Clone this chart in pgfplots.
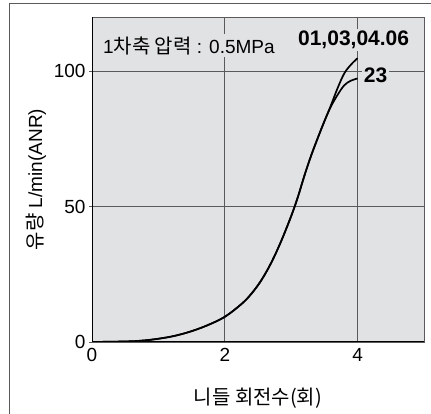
\documentclass[border=0pt]{standalone}
\usepackage{fontspec}
\setmainfont{Liberation Sans}
\newfontfamily\kr[Scale=1.05]{Noto Sans CJK KR}
\usepackage{pgfplots}
\pgfplotsset{compat=1.18}
\definecolor{bg}{HTML}{E1E2E4}
\definecolor{gridc}{HTML}{5A5A5A}
\begin{document}
\begin{tikzpicture}
\useasboundingbox (0pt,0pt) rectangle (431pt,414pt);
\draw[gridc, line width=0.8pt] (431pt,411pt) -- (9.5pt,411pt) -- (9.5pt,0pt);
\begin{axis}[
 at={(92pt,72pt)}, anchor=south west,
 scale only axis, width=332pt, height=325pt,
 xmin=0, xmax=5, ymin=0, ymax=120,
 xtick={0,2,4}, ytick={0,50,100},
 axis background/.style={fill=bg},
 grid=major, major grid style={gridc, line width=0.8pt},
 axis line style={gridc, line width=0.8pt},
 tick align=outside, major tick length=3pt,
 xtick style={draw=none}, ytick style={gridc, line width=0.8pt},
 ytick pos=left, xtick pos=bottom,
 tick label style={font=\fontsize{19}{22}\selectfont},
 /pgf/number format/assume math mode=true,
 xlabel={\kr 니들 회전수(회)},
 ylabel={{\kr 유량} L/min(ANR)},
 label style={font=\fontsize{19}{22}\selectfont},
 xlabel style={at={(axis description cs:0.5,-0.172)}, anchor=center},
 ylabel style={at={(axis description cs:-0.169,0.5)}, anchor=center},
 clip=true,
]
\addplot[black, line width=1.7pt, smooth, tension=0.6] coordinates {
 (0,0) (0.5,0.2) (0.75,0.5) (1.0,1.2) (1.25,2.3) (1.5,4.0) (1.75,6.3) (2,9.3)
 (2.25,14) (2.4,17.8) (2.55,22.8) (2.7,29.3) (2.85,37.3) (3.0,46.5) (3.1,53.5)
 (3.2,61.5) (3.3,68.8) (3.4,75.3) (3.5,81.5) (3.6,87.5) (3.7,93.8) (3.8,99.2)
 (3.9,102.4) (4,104.8)};
\addplot[black, line width=1.7pt, smooth, tension=0.6] coordinates {
 (0,0) (0.5,0.2) (0.75,0.5) (1.0,1.2) (1.25,2.3) (1.5,4.0) (1.75,6.3) (2,9.3)
 (2.25,14) (2.4,17.8) (2.55,22.8) (2.7,29.3) (2.85,37.3) (3.0,46.5) (3.1,53.5)
 (3.2,61.5) (3.3,68.8) (3.4,75.3) (3.5,81.5) (3.6,87) (3.7,91.3) (3.8,94.8)
 (3.9,96.5) (4,97.3)};
\draw[black, line width=1.6pt] (rel axis cs:0,1) -- (rel axis cs:0,0) -- (rel axis cs:1,0);
\node[fill=bg, inner sep=2pt, anchor=base west, font=\fontsize{19}{22}\selectfont] at (axis cs:0.135,106.7) {1{\kr 차축 압력} : 0.5MPa};
\node[fill=bg, inner sep=2pt, anchor=base, font=\bfseries\fontsize{21}{23}\selectfont] at (axis cs:3.94,109.3) {01,03,04.06};
\node[fill=bg, inner sep=2pt, anchor=base, font=\bfseries\fontsize{21}{23}\selectfont] at (axis cs:4.27,95.8) {23};
\end{axis}
\end{tikzpicture}
\end{document}
